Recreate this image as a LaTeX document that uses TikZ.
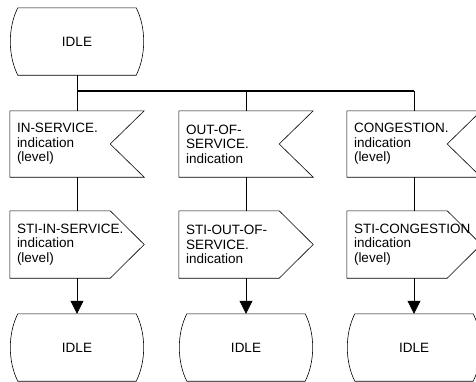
\documentclass[tikz,border=0pt]{standalone}
\usepackage{fontspec}
\setmainfont{Liberation Sans}
\usetikzlibrary{arrows.meta}
\tikzset{wire/.style={draw=black,line width=0.6pt},
  bus/.style={draw=black,line width=1.1pt},
  sdl/.style={inner sep=0pt,font={\fontsize{13.5}{14.5}\selectfont\exhyphenpenalty=10000 \hyphenpenalty=10000 }},
  state/.style={sdl,minimum width=118pt,minimum height=67pt,
    append after command={\pgfextra{\draw[wire] (\tikzlastnode.north west) -- (\tikzlastnode.north east)
      .. controls +(10pt,-20pt) and +(10pt,20pt) .. (\tikzlastnode.south east) -- (\tikzlastnode.south west)
      .. controls +(-10pt,20pt) and +(-10pt,-20pt) .. (\tikzlastnode.north west) -- cycle;}}},
  sigbox/.style={sdl,minimum width=134pt,minimum height=66pt,text width=120pt,inner xsep=7pt,align=left},
  inbox/.style={sigbox,
    append after command={\pgfextra{\draw[wire] (\tikzlastnode.north west) -- (\tikzlastnode.north east)
      -- ([xshift=-34pt]\tikzlastnode.east) -- (\tikzlastnode.south east) -- (\tikzlastnode.south west) -- cycle;}}},
  outbox/.style={sigbox,minimum height=67pt,
    append after command={\pgfextra{\draw[wire] (\tikzlastnode.north west) -- ([xshift=-34pt]\tikzlastnode.north east)
      -- (\tikzlastnode.east) -- ([xshift=-34pt]\tikzlastnode.south east) -- (\tikzlastnode.south west) -- cycle;}}},
  arr/.style={wire,-{Triangle[length=13pt,width=13pt]}}}

\begin{document}
\begin{tikzpicture}[x=1pt,y=-1pt]
\useasboundingbox (0,0) rectangle (476,381);
\clip (0,0) rectangle (476,381);
% start state
\node[state] (idle0) at (77,41.5) {IDLE};
% received signals
\node[inbox] (in1) at (77,144) {IN-SERVICE.\\indication\\(level)};
\node[inbox] (in2) at (246,144) {OUT-OF-\\SERVICE.\\indication};
\node[inbox] (in3) at (414,144) {CONGESTION.\\indication\\(level)};
% sent signals
\node[outbox] (out1) at (77,244.5) {STI-IN-SERVICE.\\indication\\(level)};
\node[outbox] (out2) at (246,244.5) {STI-OUT-OF-\\SERVICE.\\indication};
\node[outbox] (out3) at (414,244.5) {STI-CONGESTION\\indication\\(level)};
% next states
\node[state] (idle1) at (77,347.5) {IDLE};
\node[state] (idle2) at (246,347.5) {IDLE};
\node[state] (idle3) at (414,347.5) {IDLE};
\coordinate (fork) at (77,91);
\draw[bus] (fork) -- (fork -| in3.north);
\draw[wire] (idle0.south) -- (in1.north);
\draw[wire] (fork -| in2.north) -- (in2.north);
\draw[wire] (fork -| in3.north) -- (in3.north);
\draw[wire] (in1.south) -- (out1.north);
\draw[wire] (in2.south) -- (out2.north);
\draw[wire] (in3.south) -- (out3.north);
\draw[arr] (out1.south) -- (idle1.north);
\draw[arr] (out2.south) -- (idle2.north);
\draw[arr] (out3.south) -- (idle3.north);
\end{tikzpicture}
\end{document}
